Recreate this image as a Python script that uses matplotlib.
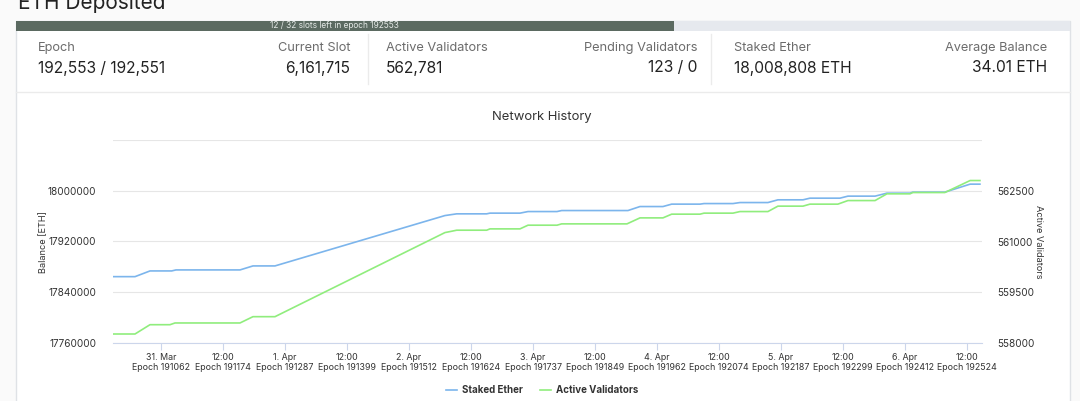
import matplotlib.pyplot as plt
from matplotlib.patches import Rectangle

plt.rcParams['font.family'] = ['Inter', 'DejaVu Sans']

# hours after 31 Mar 00:00
stake_h = [-9.29, -5.03, -2.13, 2.07, 2.9, 15.29, 17.8, 22.06, 54.96, 57.23, 63.03, 63.67,
           69.48, 71.03, 76.64, 77.55, 90.38, 92.7, 97.15, 98.84, 104.32, 105.1, 110.7,
           112.06, 117.47, 119.4, 124.25, 125.6, 131.4, 132.95, 138.2, 140.5, 144.96,
           145.5, 151.7, 156.6, 158.5]
stake_eth = [17864600, 17864600, 17873600, 17873600, 17875200, 17875200, 17881500, 17881500,
             17960900, 17963600, 17963600, 17964700, 17964700, 17967200, 17967200, 17968800,
             17968800, 17975100, 17975100, 17978900, 17978900, 17979800, 17979800, 17981400,
             17981400, 17985700, 17985700, 17988300, 17988300, 17991500, 17991500, 17996200,
             17996200, 17997800, 17997800, 18010400, 18010400]

val_h = [-9.29, -5.03, -2.13, 1.74, 2.71, 15.29, 17.8, 22.06, 54.96, 55.93, 57.23, 63.03,
         63.67, 69.48, 71.03, 76.64, 77.55, 90.19, 92.7, 97.15, 98.84, 104.32, 105.1, 110.7,
         112.06, 117.47, 119.4, 124.25, 125.6, 131.0, 132.95, 138.2, 140.5, 144.96, 145.5,
         151.7, 156.6, 158.5]
validators = [558266, 558266, 558541, 558541, 558592, 558592, 558778, 558778, 561264, 561293,
              561334, 561334, 561373, 561373, 561482, 561482, 561521, 561521, 561698, 561698,
              561808, 561808, 561838, 561838, 561885, 561885, 562045, 562045, 562104, 562104,
              562210, 562210, 562409, 562409, 562447, 562447, 562802, 562802]

tick_hours = [0, 12, 24, 36, 48, 60, 72, 84, 96, 108, 120, 132, 144, 156]
tick_days = ['31. Mar', '12:00', '1. Apr', '12:00', '2. Apr', '12:00', '3. Apr', '12:00',
             '4. Apr', '12:00', '5. Apr', '12:00', '6. Apr', '12:00']
tick_epochs = [191062, 191174, 191287, 191399, 191512, 191624, 191737, 191849, 191962,
               192074, 192187, 192299, 192412, 192524]

left_ticks = [17760000, 17840000, 17920000, 18000000, 18080000]
right_ticks = [558000, 559500, 561000, 562500, 564000]

stat_labels = ['Epoch', 'Current Slot', 'Active Validators', 'Pending Validators',
               'Staked Ether', 'Average Balance']
stat_values = ['192,553 / 192,551', '6,161,715', '562,781', '123 / 0',
               '18,008,808 ETH', '34.01 ETH']
stat_x = [38, 350, 386, 697, 734, 1047]
stat_ha = ['left', 'right', 'left', 'right', 'left', 'right']

W, H = 1080, 401
fig = plt.figure(figsize=(10.8, 4.01), dpi=100)
fig.patch.set_facecolor('#fafafa')

# page / card drawn in pixel coordinates
bg = fig.add_axes([0, 0, 1, 1])
bg.set_xlim(0, W)
bg.set_ylim(H, 0)
bg.axis('off')
bg.text(18, 9, 'ETH Deposited', fontsize=15, color='#222222', ha='left', va='baseline')
bg.add_patch(Rectangle((16, 21), 1054, 400, facecolor='white', edgecolor='#dfe2e6', lw=1))
bg.add_patch(Rectangle((16, 21), 1054, 10, facecolor='#e6e9ee', edgecolor='none'))
bg.add_patch(Rectangle((16, 21), 658, 10, facecolor='#5b6a61', edgecolor='none'))
bg.text(334, 26, '12 / 32 slots left in epoch 192553', fontsize=6, color='#e4e9e6',
        ha='center', va='center')
bg.plot([16, 1070], [92, 92], color='#ebebeb', lw=1)
for xd in [368, 711]:
    bg.plot([xd, xd], [34, 84], color='#ebebeb', lw=1)
for lab, val, xs, ha in zip(stat_labels, stat_values, stat_x, stat_ha):
    bg.text(xs, 48, lab, fontsize=9.2, color='#6c6c6c', ha=ha, va='center')
    bg.text(xs, 68, val, fontsize=11.2, color='#222222', ha=ha, va='center')

bg.text(542, 117, 'Network History', fontsize=9.4, color='#333333', ha='center', va='center')
bg.text(44, 242, 'Balance [ETH]', fontsize=6.6, color='#333333', rotation=90,
        ha='center', va='center')
bg.text(1039, 242, 'Active Validators', fontsize=6.6, color='#333333', rotation=270,
        ha='center', va='center')

ax = fig.add_axes([113 / W, 1 - 343 / H, (982 - 113) / W, (343 - 140) / H])
ax.set_facecolor('none')
l1, = ax.plot(stake_h, stake_eth, color='#7cb5ec', lw=1.2, label='Staked Ether')
ax2 = ax.twinx()
l2, = ax2.plot(val_h, validators, color='#90ed7d', lw=1.2, label='Active Validators')

ax.set_xlim(-9.29, 158.9)
ax.set_xticks(tick_hours)
ax.set_xticklabels([d + '\nEpoch ' + str(e) for d, e in zip(tick_days, tick_epochs)])
ax.tick_params(axis='x', length=5, color='#ccd6eb', labelsize=6.4, labelcolor='#333333', pad=2)

ax.set_ylim(left_ticks[0], left_ticks[-1])
ax.set_yticks(left_ticks)
ax.set_yticklabels([str(v) for v in left_ticks[:-1]] + [''])
ax.tick_params(axis='y', length=0, labelsize=7.2, labelcolor='#333333', pad=12)
ax.grid(axis='y', color='#e6e6e6', lw=0.8)

ax2.set_ylim(right_ticks[0], right_ticks[-1])
ax2.set_yticks(right_ticks)
ax2.set_yticklabels([str(v) for v in right_ticks[:-1]] + [''])
ax2.tick_params(axis='y', length=0, labelsize=7.2, labelcolor='#333333', pad=11)

for s in ['top', 'left', 'right']:
    ax.spines[s].set_visible(False)
ax.spines['bottom'].set_color('#ccd6eb')
for s in ax2.spines.values():
    s.set_visible(False)

leg = fig.legend([l1, l2], ['Staked Ether', 'Active Validators'], loc='center',
                 bbox_to_anchor=(542 / W, 1 - 390 / H), ncol=2, frameon=False,
                 prop={'weight': 'bold', 'size': 7}, handlelength=1.1,
                 columnspacing=1.8, handletextpad=0.5)
for t in leg.get_texts():
    t.set_color('#333333')

fig.savefig('out.png', dpi=100, facecolor=fig.get_facecolor())
